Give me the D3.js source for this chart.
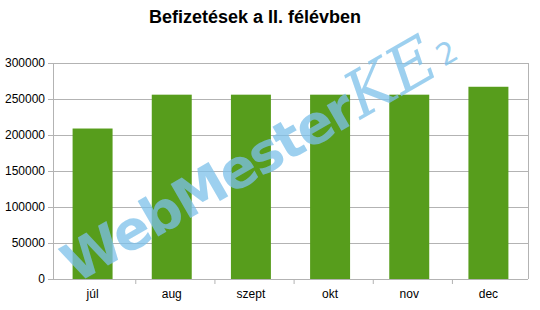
<!DOCTYPE html>
<html>
<head>
<meta charset="utf-8">
<script src="https://cdn.jsdelivr.net/npm/d3@7"></script>
<style>
  body { margin: 0; background: #fff; }
  svg { display: block; font-family: "Liberation Sans", Arial, sans-serif; }
</style>
</head>
<body>
<div id="chart"></div>
<script>
const months = ["júl", "aug", "szept", "okt", "nov", "dec"];
const payments = [209000, 256000, 256000, 256000, 256000, 267000];
const yTicks = [0, 50000, 100000, 150000, 200000, 250000, 300000];

const width = 540,
  height = 310;
const margin = { top: 63, right: 12, bottom: 31, left: 53 };

const svg = d3.select("#chart").append("svg")
  .attr("width", width)
  .attr("height", height);

const x = d3.scaleBand()
  .domain(months)
  .range([margin.left, width - margin.right])
  .paddingInner(0.495)
  .paddingOuter(0.2475);

const y = d3.scaleLinear()
  .domain([0, 300000])
  .range([height - margin.bottom, margin.top]);

// gridlines
svg.append("g")
  .selectAll("line")
  .data(yTicks)
  .join("line")
  .attr("x1", margin.left)
  .attr("x2", width - margin.right)
  .attr("y1", d => y(d))
  .attr("y2", d => y(d))
  .attr("stroke", "#b3b3b3")
  .attr("stroke-width", 1)
  .attr("shape-rendering", "crispEdges");

// right border
svg.append("line")
  .attr("x1", width - margin.right)
  .attr("x2", width - margin.right)
  .attr("y1", margin.top)
  .attr("y2", height - margin.bottom)
  .attr("stroke", "#b3b3b3")
  .attr("shape-rendering", "crispEdges");

// bars
svg.append("g")
  .selectAll("rect")
  .data(payments)
  .join("rect")
  .attr("x", (d, i) => x(months[i]))
  .attr("y", d => y(d))
  .attr("width", x.bandwidth())
  .attr("height", d => y(0) - y(d))
  .attr("fill", "#579d1c");

// axes
const yAxis = svg.append("g")
  .attr("transform", `translate(${margin.left},0)`)
  .call(d3.axisLeft(y).tickValues(yTicks).tickSize(5).tickPadding(3).tickFormat(d3.format("d")));

const xAxis = svg.append("g")
  .attr("transform", `translate(0,${height - margin.bottom})`)
  .call(d3.axisBottom(x).tickSize(0).tickPadding(10));

// category separators
xAxis.append("g")
  .selectAll("line")
  .data(months.slice(1))
  .join("line")
  .attr("x1", d => x(d) - x.bandwidth() * 0.4)
  .attr("x2", d => x(d) - x.bandwidth() * 0.4)
  .attr("y1", 0)
  .attr("y2", 5)
  .attr("stroke", "#b3b3b3");

xAxis.select(".domain").remove();
xAxis.append("line")
  .attr("x1", margin.left - 5)
  .attr("x2", width - margin.right)
  .attr("stroke", "#b3b3b3")
  .attr("shape-rendering", "crispEdges");

[yAxis, xAxis].forEach(g => {
  g.selectAll(".domain, .tick line").attr("stroke", "#b3b3b3");
  g.selectAll("text")
    .attr("font-size", 12)
    .attr("font-family", "'Liberation Sans', Arial, sans-serif")
    .attr("fill", "#000");
});

// title
svg.append("text")
  .attr("x", 255)
  .attr("y", 23)
  .attr("text-anchor", "middle")
  .attr("font-size", 18)
  .attr("font-weight", "bold")
  .attr("fill", "#000")
  .text("Befizetések a II. félévben");

// watermark
const wm = svg.append("text")
  .attr("transform", "translate(76,284) rotate(-30)")
  .attr("fill", "#7cc0ea")
  .attr("fill-opacity", 0.75);
wm.append("tspan")
  .attr("font-size", 54)
  .attr("font-weight", "bold")
  .attr("font-family", "'DejaVu Sans', sans-serif")
  .attr("letter-spacing", -2)
  .text("WebMester");
wm.append("tspan")
  .attr("font-size", 64)
  .attr("font-style", "italic")
  .attr("font-family", "'DejaVu Serif', serif")
  .attr("dx", 2)
  .text("KE");
wm.append("tspan")
  .attr("font-size", 30)
  .attr("dx", 4)
  .attr("dy", -4)
  .attr("font-family", "'DejaVu Sans', sans-serif")
  .text("2");
</script>
</body>
</html>
